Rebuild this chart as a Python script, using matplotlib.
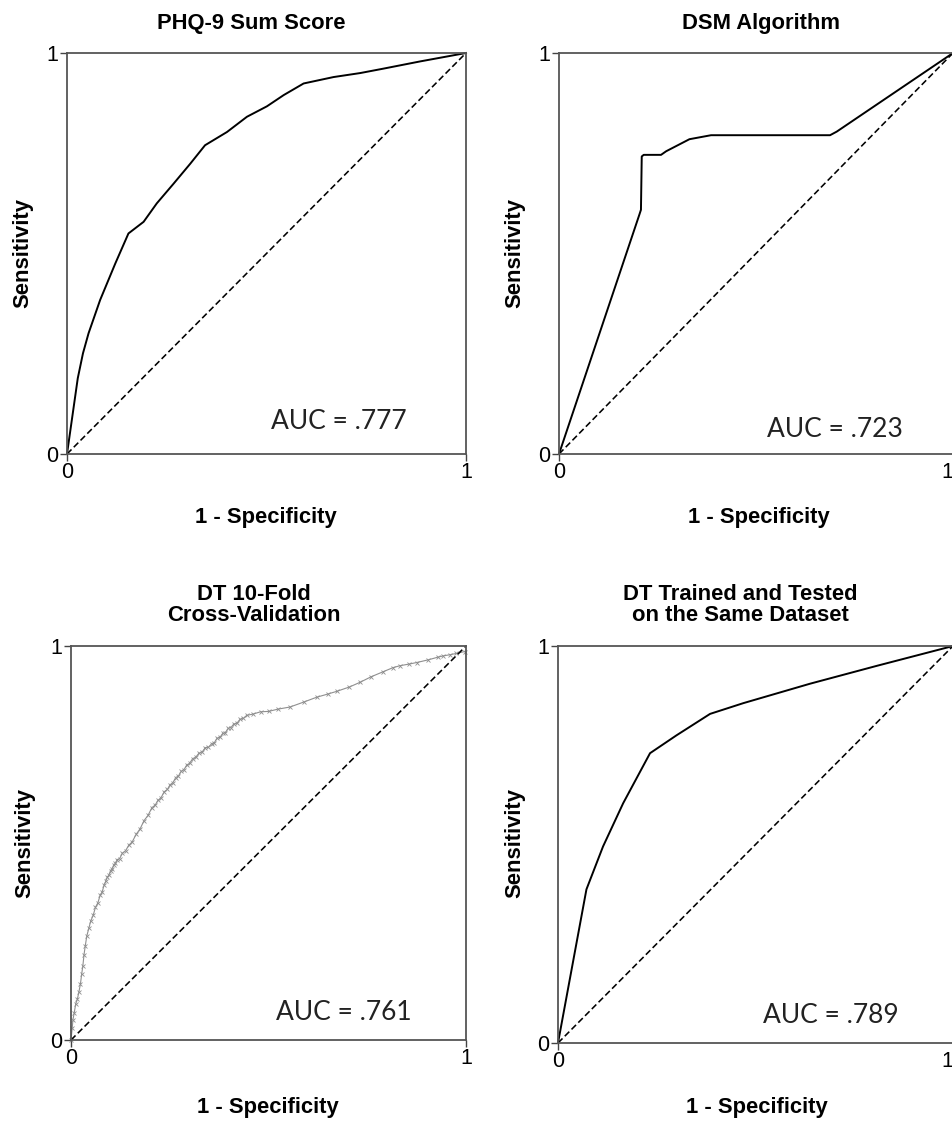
import matplotlib
matplotlib.use('Agg')
import matplotlib.pyplot as plt

plt.rcParams['font.family'] = ['Liberation Sans', 'DejaVu Sans']

# PHQ-9 Sum Score
phq_fpr = [0, 0.027, 0.040, 0.054, 0.083, 0.121, 0.154, 0.192, 0.225, 0.267, 0.309,
           0.346, 0.401, 0.451, 0.501, 0.543, 0.593, 0.668, 0.735, 0.793, 0.885, 1]
phq_tpr = [0, 0.189, 0.251, 0.301, 0.384, 0.475, 0.550, 0.579, 0.625, 0.674, 0.724,
           0.770, 0.803, 0.841, 0.867, 0.895, 0.924, 0.940, 0.950, 0.961, 0.979, 1]

# DSM Algorithm
dsm_fpr = [0, 0.204, 0.208, 0.210, 0.215, 0.259, 0.272, 0.331, 0.386, 0.688, 0.705, 1]
dsm_tpr = [0, 0.597, 0.609, 0.742, 0.746, 0.746, 0.755, 0.785, 0.795, 0.795, 0.804, 1]

# DT 10-fold cross-validation
cv_fpr = [0, 0.003, 0.005, 0.008, 0.012, 0.016, 0.020, 0.024, 0.027, 0.030, 0.033,
          0.036, 0.040, 0.045, 0.050, 0.056, 0.062, 0.068, 0.074, 0.079, 0.084, 0.088,
          0.092, 0.096, 0.100, 0.104, 0.108, 0.112, 0.117, 0.123, 0.130, 0.138, 0.146,
          0.155, 0.165, 0.175, 0.185, 0.195, 0.205, 0.213, 0.220, 0.228, 0.236, 0.244,
          0.251, 0.258, 0.265, 0.272, 0.279, 0.286, 0.293, 0.300, 0.308, 0.316, 0.324,
          0.332, 0.340, 0.348, 0.356, 0.363, 0.370, 0.377, 0.384, 0.391, 0.398, 0.405,
          0.412, 0.420, 0.428, 0.436, 0.445, 0.460, 0.480, 0.500, 0.525, 0.554, 0.590,
          0.622, 0.650, 0.673, 0.705, 0.732, 0.760, 0.791, 0.815, 0.833, 0.855, 0.875,
          0.905, 0.930, 0.943, 0.960, 0.975, 0.997]
cv_tpr = [0, 0.030, 0.052, 0.068, 0.092, 0.103, 0.122, 0.143, 0.167, 0.188, 0.217,
          0.238, 0.264, 0.283, 0.302, 0.316, 0.337, 0.348, 0.368, 0.376, 0.394, 0.403,
          0.414, 0.418, 0.430, 0.434, 0.444, 0.448, 0.458, 0.460, 0.474, 0.480, 0.494,
          0.503, 0.522, 0.536, 0.557, 0.570, 0.590, 0.596, 0.608, 0.615, 0.630, 0.636,
          0.648, 0.653, 0.666, 0.670, 0.682, 0.686, 0.698, 0.702, 0.714, 0.718, 0.728,
          0.731, 0.742, 0.743, 0.752, 0.755, 0.766, 0.768, 0.778, 0.780, 0.791, 0.793,
          0.802, 0.804, 0.814, 0.816, 0.824, 0.827, 0.833, 0.834, 0.840, 0.845, 0.858,
          0.870, 0.878, 0.885, 0.896, 0.908, 0.922, 0.935, 0.945, 0.950, 0.954, 0.958,
          0.965, 0.972, 0.975, 0.978, 0.981, 0.986]

# DT trained and tested on the same dataset
same_fpr = [0, 0.072, 0.114, 0.165, 0.233, 0.300, 0.385, 0.469, 0.638, 0.807, 1]
same_tpr = [0, 0.387, 0.495, 0.604, 0.730, 0.775, 0.829, 0.856, 0.905, 0.950, 1]

titles = ['PHQ-9 Sum Score', 'DSM Algorithm', 'DT 10-Fold\nCross-Validation',
          'DT Trained and Tested\non the Same Dataset']
auc_labels = ['AUC = .777', 'AUC = .723', 'AUC = .761', 'AUC = .789']

W, H = 952, 1121
fig = plt.figure(figsize=(W / 100, H / 100), dpi=100)


def px_rect(x0, y0, x1, y1):
    return [x0 / W, 1 - y1 / H, (x1 - x0) / W, (y1 - y0) / H]


panels = [
    # axes box (px), title (x, y), xlabel (x, y), ylabel (x, y), auc pos (axes frac)
    dict(box=(67, 53, 466, 454), title=(251, 23), xl=(266, 518), yl=(23, 253), auc=(0.68, 0.08)),
    dict(box=(559, 53, 953, 454), title=(761, 23), xl=(759, 518), yl=(515, 253), auc=(0.70, 0.06)),
    dict(box=(71, 646, 466, 1040), title=(254, 605), xl=(268, 1107), yl=(25, 843), auc=(0.69, 0.07)),
    dict(box=(558, 646, 953, 1043), title=(740, 605), xl=(757, 1107), yl=(515, 843), auc=(0.69, 0.07)),
]
curves = [(phq_fpr, phq_tpr), (dsm_fpr, dsm_tpr), (cv_fpr, cv_tpr), (same_fpr, same_tpr)]

for i, p in enumerate(panels):
    ax = fig.add_axes(px_rect(*p['box']))
    fpr, tpr = curves[i]
    if i == 2:
        ax.plot(fpr, tpr, color='#8f8f8f', lw=0.8, marker='x', ms=3.5, mew=0.6, clip_on=False)
    else:
        ax.plot(fpr, tpr, color='black', lw=1.4, clip_on=False)
    ax.plot([0, 1], [0, 1], color='black', lw=1.15, dashes=(4, 2))
    ax.set_xlim(0, 1)
    ax.set_ylim(0, 1)
    ax.set_xticks([0, 1])
    ax.set_yticks([0, 1])
    ax.set_xticklabels(['0', '1'])
    ax.set_yticklabels(['0', '1'])
    ax.tick_params(length=5, width=1, pad=1, labelsize=15.5, color='#444444')
    if i % 2 == 1:
        # right-hand panels run into the edge of the picture
        ax.get_xticklabels()[1].set_horizontalalignment('right')
    for s in ax.spines.values():
        s.set_color('#555555')
        s.set_linewidth(1.3)
    ax.text(p['auc'][0], p['auc'][1], auc_labels[i], transform=ax.transAxes,
            ha='center', va='center', fontsize=19, family=['Lato', 'DejaVu Sans'],
            color='#222222')

    fig.text(p['title'][0] / W, 1 - p['title'][1] / H, titles[i], ha='center', va='center',
             fontsize=15.8, fontweight='bold', linespacing=1.0)
    fig.text(p['xl'][0] / W, 1 - p['xl'][1] / H, '1 - Specificity', ha='center', va='center',
             fontsize=15.8, fontweight='bold')
    fig.text(p['yl'][0] / W, 1 - p['yl'][1] / H, 'Sensitivity', ha='center', va='center',
             fontsize=15.8, fontweight='bold', rotation=90)

fig.savefig('out.png', dpi=100)
